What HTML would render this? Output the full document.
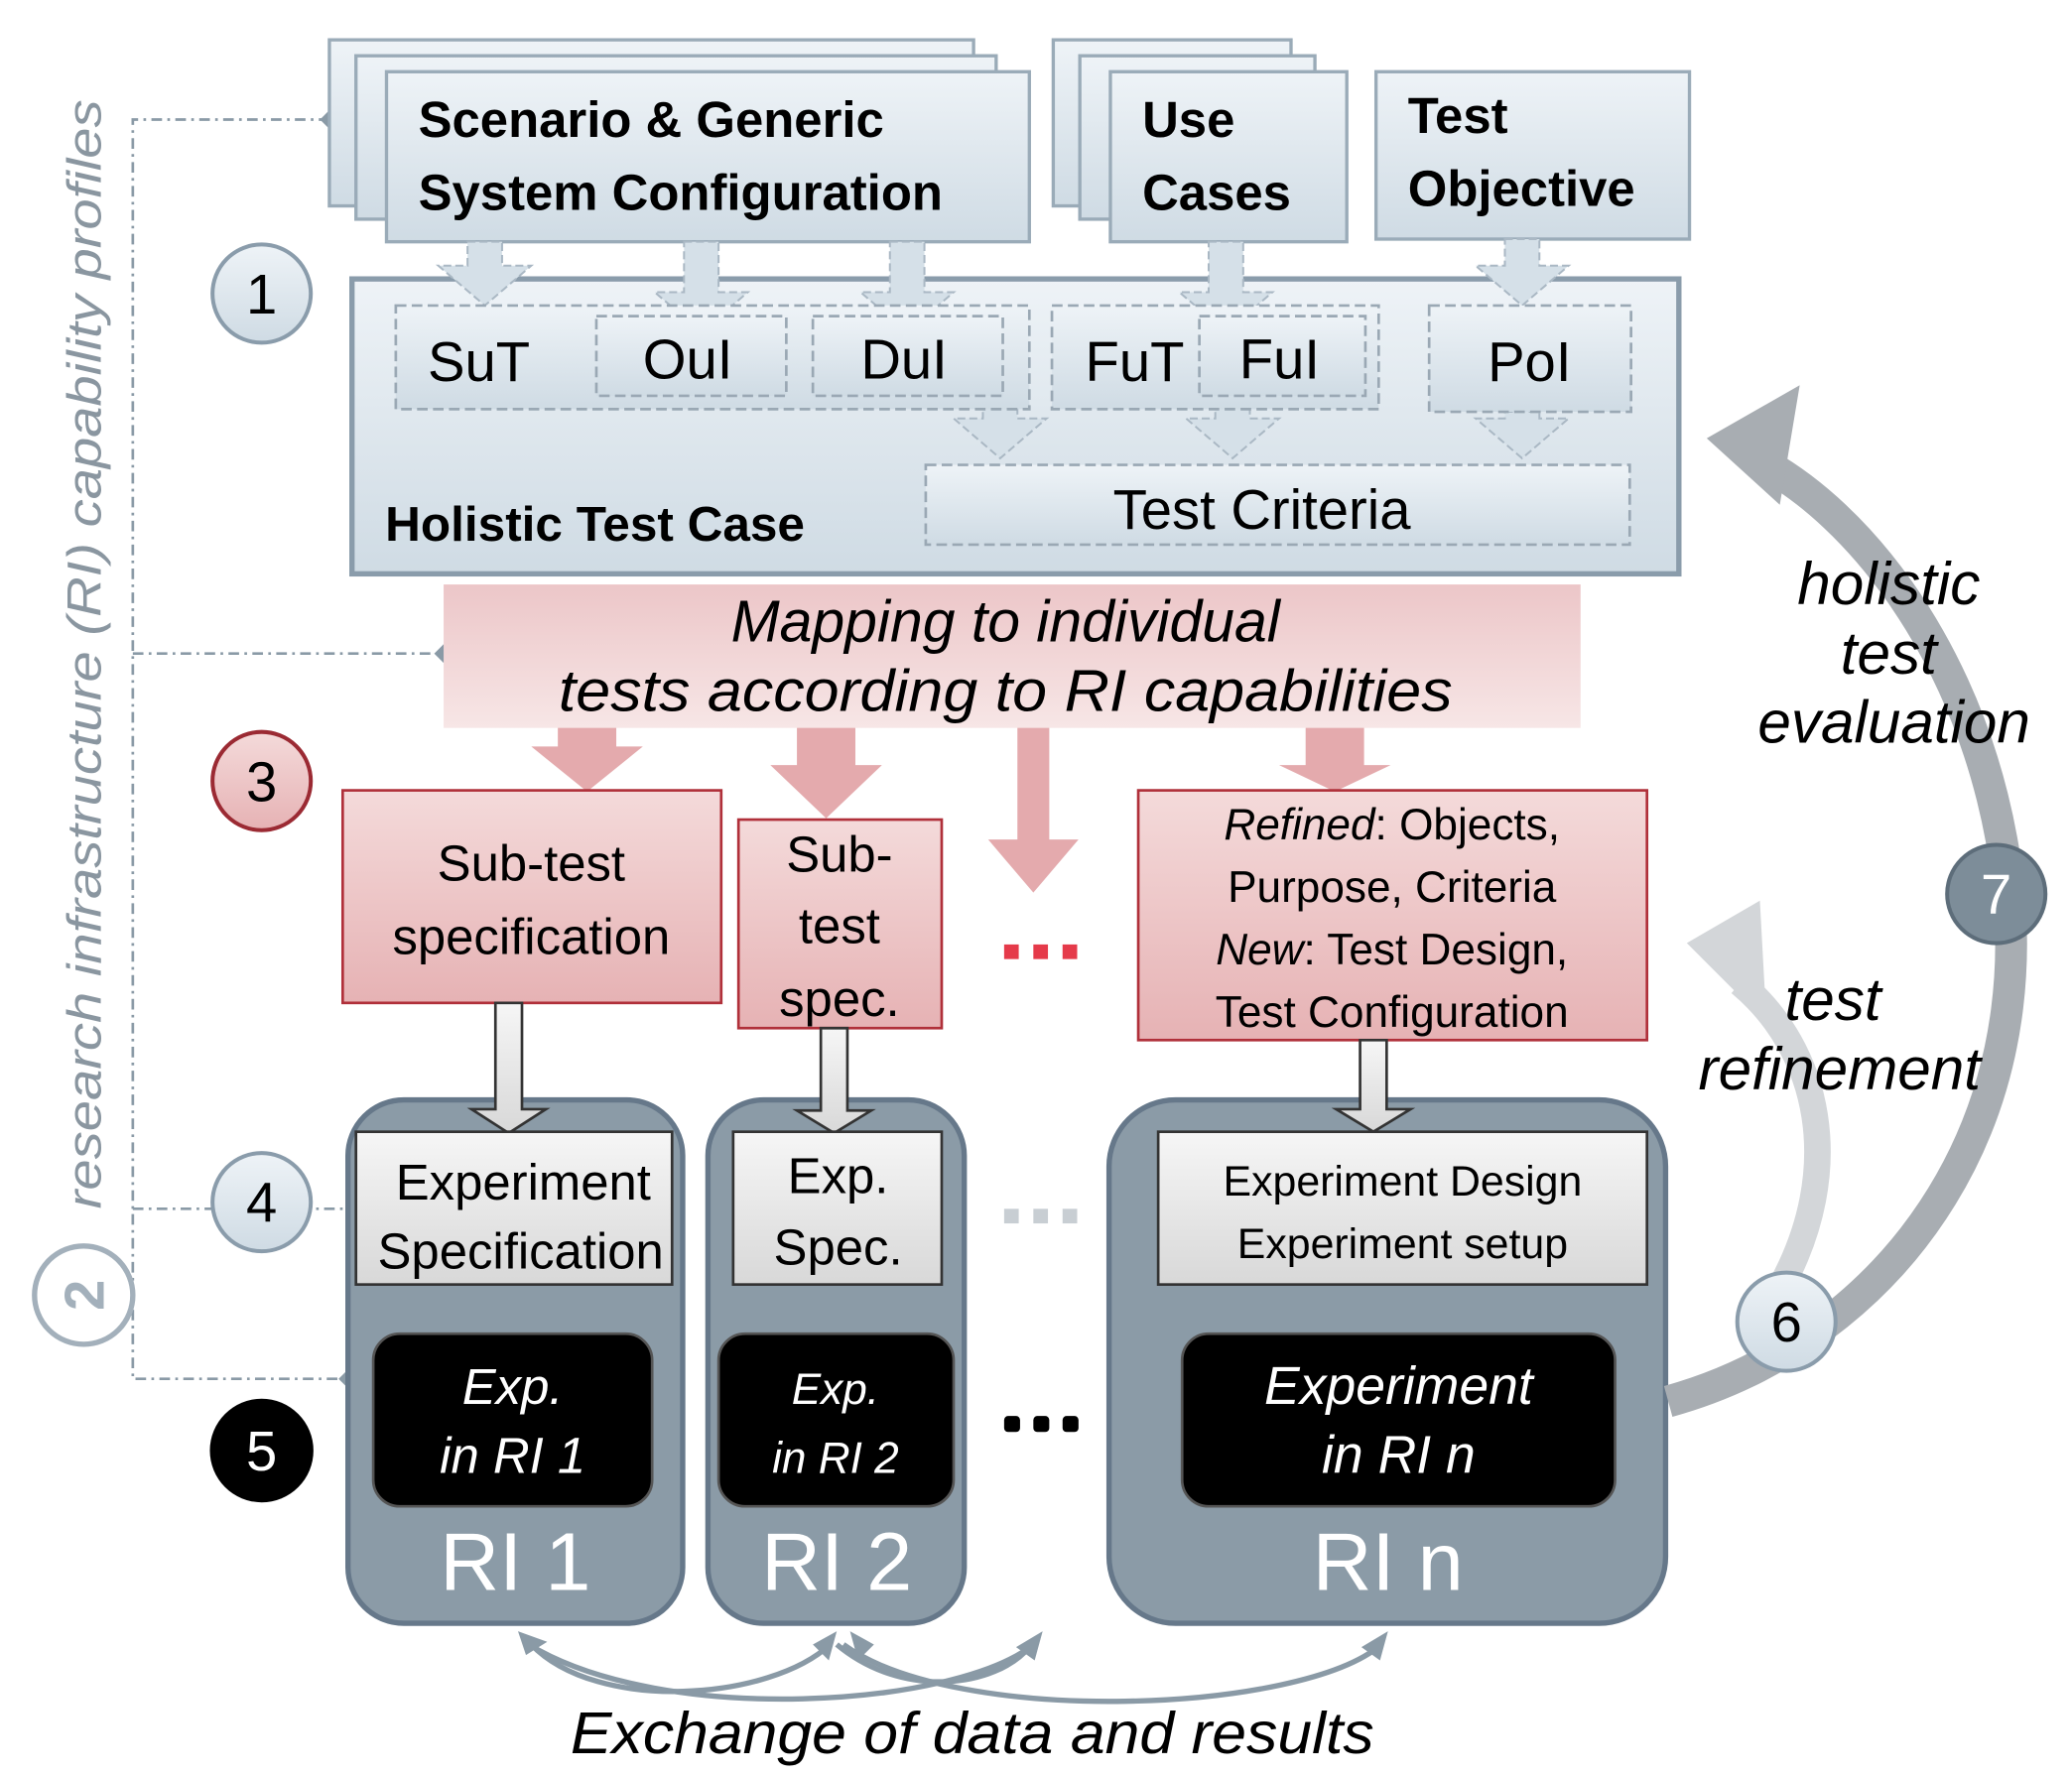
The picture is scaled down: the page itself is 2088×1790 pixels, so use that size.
<!DOCTYPE html>
<html><head><meta charset="utf-8"><style>
html,body{margin:0;padding:0;background:#fff}
svg{display:block}
text{font-family:"Liberation Sans",sans-serif}
</style></head><body>
<svg width="2088" height="1790" viewBox="0 0 1560 1337" xmlns="http://www.w3.org/2000/svg" preserveAspectRatio="none">
<defs>
<linearGradient id="bl" x1="0" y1="0" x2="0" y2="1"><stop offset="0" stop-color="#eef3f7"/><stop offset="1" stop-color="#cfdbe4"/></linearGradient>
<linearGradient id="pk" x1="0" y1="0" x2="0" y2="1"><stop offset="0" stop-color="#f4dada"/><stop offset="1" stop-color="#e6b2b4"/></linearGradient>
<linearGradient id="band" x1="0" y1="0" x2="0" y2="1"><stop offset="0" stop-color="#ecc6c8"/><stop offset="1" stop-color="#f7e6e6"/></linearGradient>
<linearGradient id="gr" x1="0" y1="0" x2="0" y2="1"><stop offset="0" stop-color="#f6f6f6"/><stop offset="1" stop-color="#d8d8d8"/></linearGradient>
</defs>
<g stroke="#8a9aa6" stroke-width="2" stroke-dasharray="8,4,2,4" fill="none">
<path d="M248 90 H100 V1038 H262"/><path d="M100 492 H334"/><path d="M100 910 H268"/>
</g>
<g fill="#8a9aa6"><rect x="243" y="85" width="10" height="10" transform="rotate(45 248 90)"/><rect x="329" y="487" width="10" height="10" transform="rotate(45 334 492)"/><rect x="263" y="905" width="10" height="10" transform="rotate(45 268 910)"/><rect x="257" y="1033" width="10" height="10" transform="rotate(45 262 1038)"/></g>
<text transform="translate(76,910) rotate(-90)" font-size="36" font-style="italic" fill="#8a96a0" textLength="835" lengthAdjust="spacingAndGlyphs">research infrastructure (RI) capability profiles</text>

<g stroke="#9aabb8" stroke-width="2.5" fill="url(#bl)">
<rect x="248" y="30" width="485" height="125"/><rect x="268" y="42" width="482" height="123"/><rect x="291" y="54" width="484" height="128"/>
<rect x="793" y="30" width="179" height="125"/><rect x="813" y="42" width="177" height="123"/><rect x="836" y="54" width="178" height="128"/>
<rect x="1036" y="54" width="236" height="126"/>
</g>
<g font-weight="bold" font-size="38" fill="#000">
<text x="315" y="103">Scenario &amp; Generic</text><text x="315" y="158">System Configuration</text>
<text x="860" y="103">Use</text><text x="860" y="158">Cases</text>
<text x="1060" y="100">Test</text><text x="1060" y="155">Objective</text>
</g>

<rect x="265" y="210" width="999" height="222" fill="url(#bl)" stroke="#8a9cab" stroke-width="4"/>
<g fill="#d5e0e8" stroke="#aab8c4" stroke-width="1.5" stroke-dasharray="6,3">
<path d="M352 182 h26 v18 h22 l-35 30 l-35 -30 h22z"/>
<path d="M515 182 h26 v38 h22 l-35 30 l-35 -30 h22z"/>
<path d="M670 182 h26 v38 h22 l-35 30 l-35 -30 h22z"/>
<path d="M910 182 h26 v38 h22 l-35 30 l-35 -30 h22z"/>
<path d="M1133 180 h26 v20 h22 l-35 30 l-35 -30 h22z"/>
<path d="M740 305 h26 v10 h22 l-35 30 l-35 -30 h22z"/>
<path d="M915 305 h26 v10 h22 l-35 30 l-35 -30 h22z"/>
<path d="M1133 310 h26 v5 h22 l-35 30 l-35 -30 h22z"/>
</g>
<g fill="url(#bl)" stroke="#9aa8b4" stroke-width="2" stroke-dasharray="8,4">
<rect x="298" y="230" width="477" height="78"/>
<rect x="449" y="238" width="143" height="60"/><rect x="612" y="238" width="143" height="60"/>
<rect x="792" y="230" width="246" height="78"/><rect x="903" y="238" width="125" height="60"/>
<rect x="1076" y="230" width="152" height="80"/>
<rect x="697" y="350" width="530" height="60"/>
</g>
<g font-size="42" fill="#000">
<text x="322" y="287">SuT</text><text x="484" y="285">OuI</text><text x="648" y="285">DuI</text>
<text x="817" y="287">FuT</text><text x="933" y="285">FuI</text><text x="1120" y="287">PoI</text>
<text x="838" y="398">Test Criteria</text>
</g>
<text x="290" y="407" font-size="37" font-weight="bold">Holistic Test Case</text>

<rect x="334" y="440" width="856" height="108" fill="url(#band)"/>
<g fill="#e4aaad">
<path d="M420 548 h44 v14 h20 l-42 34 l-42 -34 h20z"/>
<path d="M600 548 h44 v28 h20 l-42 40 l-42 -40 h20z"/>
<path d="M766 548 h24 v84 h22 l-34 40 l-34 -40 h22z"/>
<path d="M983 548 h44 v28 h20 l-42 20 l-42 -20 h20z"/>
</g>
<g font-size="44" font-style="italic" text-anchor="middle"><text x="757" y="483">Mapping to individual</text><text x="757" y="535" textLength="673" lengthAdjust="spacingAndGlyphs">tests according to RI capabilities</text></g>

<g fill="url(#pk)" stroke="#b0303a" stroke-width="2">
<rect x="258" y="595" width="285" height="160"/><rect x="556" y="617" width="153" height="157"/><rect x="857" y="595" width="383" height="188"/>
</g>
<g font-size="38" text-anchor="middle">
<text x="400" y="663">Sub-test</text><text x="400" y="718">specification</text>
<text x="632" y="656">Sub-</text><text x="632" y="710">test</text><text x="632" y="765">spec.</text>
</g>
<g font-size="33" text-anchor="middle">
<text x="1048" y="632"><tspan font-style="italic">Refined</tspan>: Objects,</text>
<text x="1048" y="679">Purpose, Criteria</text>
<text x="1048" y="726"><tspan font-style="italic">New</tspan>: Test Design,</text>
<text x="1048" y="773">Test Configuration</text>
</g>
<g fill="#e53a4a"><rect x="756" y="711" width="11" height="11"/><rect x="778" y="711" width="11" height="11"/><rect x="800" y="711" width="11" height="11"/></g>

<g fill="#8b9ba7" stroke="#66788a" stroke-width="4">
<rect x="262" y="828" width="252" height="394" rx="42"/><rect x="533" y="828" width="193" height="394" rx="42"/><rect x="835" y="828" width="419" height="394" rx="50"/>
</g>
<g fill="url(#gr)" stroke="#333" stroke-width="2">
<path d="M373 755 h20 v80 h18 l-28 18 l-28 -18 h18z"/>
<path d="M618 774 h20 v62 h18 l-28 17 l-28 -17 h18z"/>
<path d="M1024 783 h20 v52 h18 l-28 17 l-28 -17 h18z"/>
</g>
<g fill="url(#gr)" stroke="#333" stroke-width="2">
<rect x="268" y="852" width="238" height="115"/><rect x="552" y="852" width="157" height="115"/><rect x="872" y="852" width="368" height="115"/>
</g>
<g font-size="38" text-anchor="middle"><text x="394" y="903">Experiment</text><text x="392" y="955">Specification</text>
<text x="631" y="898">Exp.</text><text x="631" y="952">Spec.</text></g>
<g font-size="32" text-anchor="middle"><text x="1056" y="900">Experiment Design</text><text x="1056" y="947">Experiment setup</text></g>
<g fill="#c8ced3"><rect x="756" y="910" width="11" height="11"/><rect x="778" y="910" width="11" height="11"/><rect x="800" y="910" width="11" height="11"/></g>
<g fill="#000" stroke="#555" stroke-width="2">
<rect x="281" y="1004" width="210" height="130" rx="20"/><rect x="541" y="1004" width="177" height="130" rx="20"/><rect x="890" y="1004" width="326" height="130" rx="20"/>
</g>
<g fill="#fff" font-style="italic" text-anchor="middle">
<text x="386" y="1057" font-size="38">Exp.</text><text x="386" y="1109" font-size="38">in RI 1</text>
<text x="629" y="1057" font-size="33">Exp.</text><text x="629" y="1109" font-size="33">in RI 2</text>
<text x="1053" y="1057" font-size="40">Experiment</text><text x="1053" y="1109" font-size="40">in RI  n</text>
</g>
<g fill="#000"><rect x="756" y="1066" width="12" height="12" rx="3"/><rect x="778" y="1066" width="12" height="12" rx="3"/><rect x="800" y="1066" width="12" height="12" rx="3"/></g>
<g fill="#fff" font-size="62" text-anchor="middle"><text x="388" y="1197">RI 1</text><text x="630" y="1197">RI 2</text><text x="1045" y="1197">RI n</text></g>

<path d="M1256 1055 C1420 1010 1560 840 1500 600 C1470 480 1400 390 1330 350" fill="none" stroke="#a8adb2" stroke-width="24"/>
<path d="M1285 330 L1355 290 L1340 380 Z" fill="#a8adb2"/>
<path d="M1340 970 C1390 880 1370 790 1310 740" fill="none" stroke="#d3d6d9" stroke-width="20"/>
<path d="M1270 710 L1325 678 L1330 770 Z" fill="#d3d6d9"/>
<g font-size="45" font-style="italic" text-anchor="middle">
<text x="1422" y="455">holistic</text><text x="1422" y="507">test</text><text x="1426" y="559">evaluation</text>
<text x="1380" y="768">test</text><text x="1385" y="820">refinement</text>
</g>

<g stroke="#8a9cab" stroke-width="3" fill="url(#bl)"><circle cx="197" cy="221" r="37"/><circle cx="197" cy="905" r="37"/><circle cx="1345" cy="995" r="37"/></g>
<circle cx="197" cy="588" r="37" fill="url(#pk)" stroke="#9b2a33" stroke-width="3"/>
<circle cx="197" cy="1092" r="39" fill="#000"/>
<circle cx="63" cy="975" r="37" fill="#fff" stroke="#a3b0bb" stroke-width="4"/>
<circle cx="1503" cy="673" r="37" fill="#7d8d99" stroke="#5d6d7a" stroke-width="3"/>
<g font-size="42" text-anchor="middle"><text x="197" y="236">1</text><text x="197" y="603">3</text><text x="197" y="920">4</text><text x="197" y="1107" fill="#fff">5</text><text x="1345" y="1010">6</text><text x="1503" y="688" fill="#fff">7</text>
<text x="63" y="990" fill="#a3b0bb" font-weight="bold" transform="rotate(-90 63 975)">2</text></g>

<g fill="none" stroke="#8a9aa6" stroke-width="4">
<path d="M400 1238 C450 1290 580 1280 625 1238"/><path d="M398 1238 C500 1300 720 1285 778 1238"/>
<path d="M635 1238 C720 1300 980 1290 1040 1238"/><path d="M630 1238 C680 1280 750 1270 775 1240"/>
</g>
<g fill="#8a9aa6"><path d="M390 1228 l22 8 l-16 10z"/><path d="M630 1228 l-6 22 l-12 -12z"/><path d="M640 1228 l6 22 l12 -12z"/><path d="M785 1228 l-6 22 l-14 -10z"/><path d="M1045 1228 l-6 22 l-14 -10z"/></g>
<text x="732" y="1320" font-size="44" font-style="italic" text-anchor="middle" textLength="605" lengthAdjust="spacingAndGlyphs">Exchange of data and results</text>
</svg>
</body></html>
